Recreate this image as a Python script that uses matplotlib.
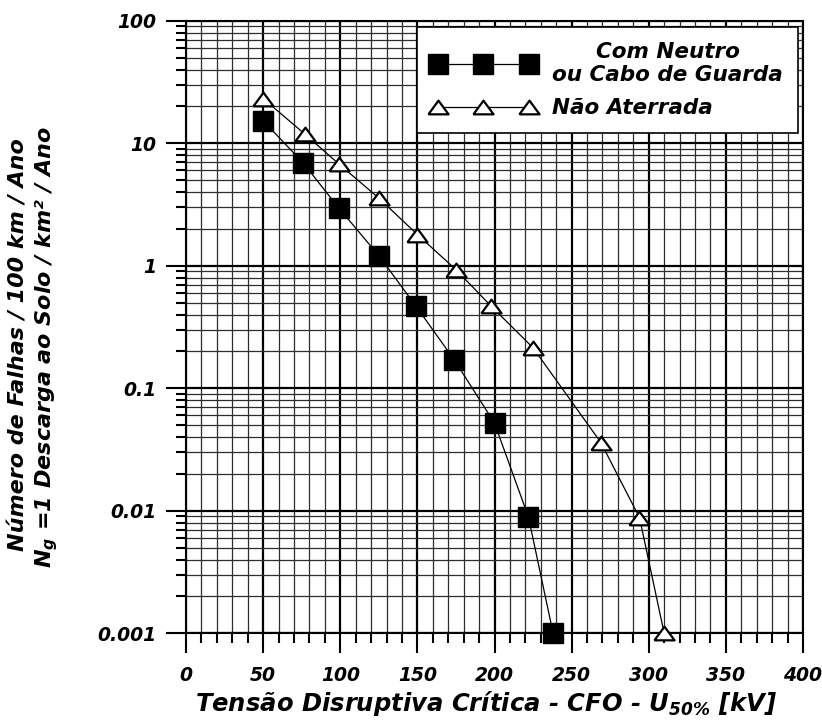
import matplotlib
matplotlib.use("Agg")
import matplotlib.pyplot as plt
from matplotlib.ticker import FixedLocator, FixedFormatter, MultipleLocator, LogLocator, NullFormatter

# data
sq_x = [50, 76, 99, 125, 149, 174, 200, 222, 238]
sq_y = [15.3, 6.9, 2.97, 1.21, 0.47, 0.17, 0.052, 0.0089, 0.001]
tri_x = [50, 77, 99, 125, 150, 175, 198, 225, 269, 294, 310]
tri_y = [23.2, 11.9, 6.8, 3.57, 1.80, 0.93, 0.466, 0.214, 0.036, 0.0088, 0.001]
label_sq = "Com Neutro\nou Cabo de Guarda"
label_tri = "Não Aterrada"
y_ticks = [0.001, 0.01, 0.1, 1, 10, 100]
y_ticklabels = ["0.001", "0.01", "0.1", "1", "10", "100"]
x_ticks = [0, 50, 100, 150, 200, 250, 300, 350, 400]
x_ticklabels = ["0", "50", "100", "150", "200", "250", "300", "350", "400"]

plt.rcParams["font.family"] = "DejaVu Sans"
plt.rcParams["font.weight"] = "bold"
plt.rcParams["font.style"] = "italic"
plt.rcParams["mathtext.fontset"] = "custom"
plt.rcParams["mathtext.it"] = "DejaVu Sans:bold:italic"
plt.rcParams["mathtext.rm"] = "DejaVu Sans:bold:italic"
plt.rcParams["mathtext.default"] = "it"

fig = plt.figure(figsize=(8.22, 7.22), dpi=100)
ax = fig.add_axes([186 / 822, 1 - 633.3 / 722, 617 / 822, 612.5 / 722])

tri_marker = [(-1, -0.68), (1, -0.68), (0, 0.68), (-1, -0.68)]

ax.plot(sq_x, sq_y, color="black", lw=0.9, marker="s", ms=14.5,
        mfc="black", mec="black", clip_on=False, zorder=5, label=label_sq)
ax.plot(tri_x, tri_y, color="black", lw=0.9, marker=tri_marker, ms=14.5,
        mfc="white", mec="black", mew=1.6, clip_on=False, zorder=5, label=label_tri)

ax.set_yscale("log")
ax.set_xlim(0, 400)
ax.set_ylim(0.001, 100)

ax.xaxis.set_major_locator(FixedLocator(x_ticks))
ax.xaxis.set_major_formatter(FixedFormatter(x_ticklabels))
ax.xaxis.set_minor_locator(MultipleLocator(10))
ax.yaxis.set_major_locator(FixedLocator(y_ticks))
ax.yaxis.set_major_formatter(FixedFormatter(y_ticklabels))
ax.yaxis.set_minor_locator(LogLocator(base=10, subs=range(2, 10), numticks=20))
ax.yaxis.set_minor_formatter(NullFormatter())

ax.grid(which="major", color="black", lw=1.6, zorder=1)
ax.grid(which="minor", color="#2e2e2e", lw=0.9, zorder=1)
ax.set_axisbelow(True)

ax.tick_params(which="major", direction="out", length=14.5, width=1.5, labelsize=13.5, pad=7)
ax.tick_params(which="minor", direction="out", length=7.5, width=1.5)
ax.tick_params(axis="x", which="major", pad=9)
for s in ax.spines.values():
    s.set_linewidth(1.5)
for t in ax.get_xticklabels() + ax.get_yticklabels():
    t.set_fontweight("bold")
    t.set_fontstyle("italic")

leg = ax.legend(loc="upper right", bbox_to_anchor=(0.992, 0.99), borderaxespad=0,
                numpoints=3, handlelength=4.8, handletextpad=0.8, borderpad=0.7,
                labelspacing=0.6, fancybox=False, framealpha=1, edgecolor="black",
                prop={"size": 15.5, "weight": "bold", "style": "italic"})
leg.get_frame().set_linewidth(1.2)
leg.get_texts()[0].set_multialignment("center")

fig.text(486 / 822, 1 - 704 / 722, "Tensão Disruptiva Crítica - CFO - U$_{50\\%}$ [kV]",
         ha="center", va="center", fontsize=17.5, fontweight="bold", fontstyle="italic")
fig.text(19 / 822, 1 - 345 / 722, "Número de Falhas / 100 km / Ano", rotation=90,
         ha="center", va="center", fontsize=16, fontweight="bold", fontstyle="italic")
fig.text(47 / 822, 1 - 347 / 722, "N$_g$ =1 Descarga ao Solo / km² / Ano", rotation=90,
         ha="center", va="center", fontsize=16, fontweight="bold", fontstyle="italic")

fig.savefig("out.png", dpi=100)
plt.close(fig)
